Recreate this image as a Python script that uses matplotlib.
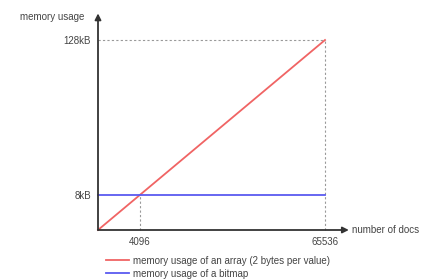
import numpy as np
import matplotlib.pyplot as plt
from matplotlib.scale import FuncScale

# schematic data (the original is not drawn to scale)
docs = [0, 4096, 65536]
array_kb = [0, 8, 128]          # 2 bytes per value
bitmap_docs = [0, 65536]
bitmap_kb = [8, 8]
x_ticks = [4096, 65536]
x_tick_labels = ["4096", "65536"]
y_ticks = [8, 128]
y_tick_labels = ["8kB", "128kB"]

# piecewise linear scales so that 4096 / 8kB sit where the sketch puts them
frac = [0, 0.185, 1.0]
def fwd_x(v): return np.interp(v, docs, frac)
def inv_x(v): return np.interp(v, frac, docs)
def fwd_y(v): return np.interp(v, array_kb, frac)
def inv_y(v): return np.interp(v, frac, array_kb)

plt.rcParams['font.family'] = ['Liberation Sans', 'DejaVu Sans']
txt = '#444444'
axc = '#333333'

fig = plt.figure(figsize=(4.38, 2.8), dpi=100)
ax = fig.add_axes([98/438, 50/280, 227/438, 190/280])
ax.set_xscale(FuncScale(ax.xaxis, (fwd_x, inv_x)))
ax.set_yscale(FuncScale(ax.yaxis, (fwd_y, inv_y)))
ax.set_xlim(0, 65536)
ax.set_ylim(0, 128)
for s in ax.spines.values():
    s.set_visible(False)

# guide lines
ax.plot([0, 65536], [128, 128], color='#999999', lw=0.8, ls=(0, (2, 2)), clip_on=False)
ax.plot([65536, 65536], [0, 128], color='#999999', lw=0.8, ls=(0, (2, 2)), clip_on=False)
ax.plot([4096, 4096], [0, 8], color='#999999', lw=0.8, ls=(0, (2, 2)), clip_on=False)

ax.plot(docs, array_kb, color='#f06464', lw=1.3, clip_on=False,
        label='memory usage of an array (2 bytes per value)')
ax.plot(bitmap_docs, bitmap_kb, color='#5a5af0', lw=1.3, clip_on=False,
        label='memory usage of a bitmap')

# axis arrows
ax.annotate('', xy=(1.105, 0), xytext=(0, 0), xycoords='axes fraction',
            arrowprops=dict(arrowstyle='-|>', color=axc, lw=1.3, mutation_scale=9,
                            shrinkA=0, shrinkB=0))
ax.annotate('', xy=(0, 1.14), xytext=(0, 0), xycoords='axes fraction',
            arrowprops=dict(arrowstyle='-|>', color=axc, lw=1.3, mutation_scale=9,
                            shrinkA=0, shrinkB=0))

ax.set_xticks(x_ticks)
ax.set_xticklabels(x_tick_labels)
ax.set_yticks(y_ticks)
ax.set_yticklabels(y_tick_labels)
ax.tick_params(length=0, labelsize=7, colors=txt, pad=5)
ax.tick_params(axis='x', pad=5)

ax.text(-0.06, 1.12, 'memory usage', transform=ax.transAxes, ha='right', va='center',
        fontsize=7, color=txt)
ax.text(1.12, 0, 'number of docs', transform=ax.transAxes, ha='left', va='center',
        fontsize=7, color=txt)

ax.legend(loc='upper left', bbox_to_anchor=(0.015, -0.11), frameon=False, fontsize=7,
          handlelength=2.3, handletextpad=0.4, labelspacing=0.3, borderpad=0,
          labelcolor=txt)

fig.savefig('out.png', dpi=100)
